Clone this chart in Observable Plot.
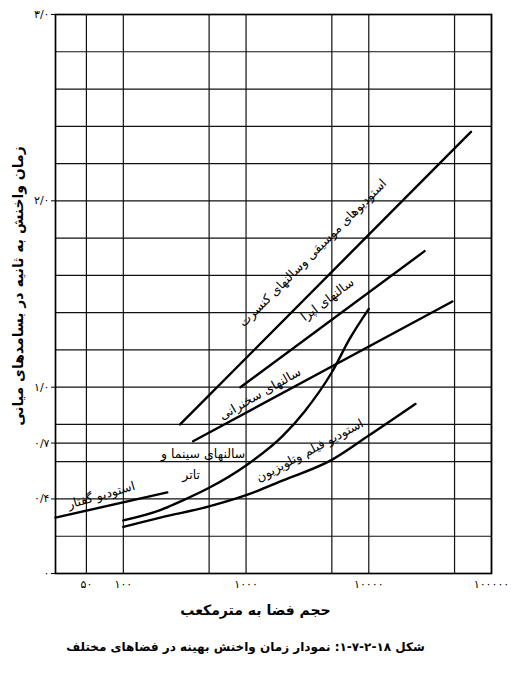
<!DOCTYPE html>
<html>
<head>
<meta charset="utf-8">
<script src="https://cdn.jsdelivr.net/npm/d3@7"></script>
<script src="https://cdn.jsdelivr.net/npm/@observablehq/plot@0.6"></script>
<style>
  body { margin: 0; background: #fff; }
  #chart { width: 517px; }
  #caption { width: 491px; text-align: center; font-family: "DejaVu Sans", sans-serif; font-weight: bold; font-size: 12px; direction: rtl; margin-top: 15px; color: #000; }
</style>
</head>
<body>
<div id="chart"></div>
<div id="caption"></div>
<script>
// ---- data ----
const xTicks = [50, 100, 1000, 10000, 100000];
const yTicks = [0, 0.4, 0.7, 1, 2, 3];
const xGrid = [50, 100, 500, 1000, 5000, 10000, 50000, 100000];
const yGrid = [0, 0.2, 0.4, 0.6, 0.7, 0.8, 1.0, 1.2, 1.4, 1.6, 1.8, 2.0, 2.2, 2.4, 2.6, 2.8, 3.0];

const speechX = [28, 228];
const speechY = [0.30, 0.435];
const cinemaX = [100, 200, 300, 500, 1000, 2000, 3000, 5000, 7000, 10000];
const cinemaY = [0.285, 0.34, 0.39, 0.46, 0.58, 0.74, 0.87, 1.08, 1.26, 1.42];
const filmX = [100, 200, 500, 1000, 2000, 5000, 10000, 24000];
const filmY = [0.25, 0.30, 0.36, 0.42, 0.50, 0.61, 0.74, 0.91];
const lectureX = [370, 48000];
const lectureY = [0.71, 1.46];
const operaX = [900, 28500];
const operaY = [1.0, 1.73];
const concertX = [290, 68000];
const concertY = [0.80, 2.37];

const curveLabels = ["استودیوهای موسیقی وسالنهای کنسرت", "سالنهای اپرا", "سالنهای سخنرانی", "سالنهای سینما و", "تاتر", "استودیو گفتار", "استودیو فیلم وتلویزیون"];
const labelX = [3500, 4600, 1300, 447, 357, 66, 3300];
const labelY = [1.72, 1.47, 0.965, 0.644, 0.526, 0.42, 0.66];
const labelAngle = [-45, -37, -30, 0, 0, -16, -28];

const xTitle = "حجم فضا به مترمکعب";
const yTitle = "زمان واخنش به ثانیه در بسامدهای میانی";
const captionText = "شکل ۱۸-۲-۷-۱: نمودار زمان واخنش بهینه در فضاهای مختلف";

// ---- helpers ----
const fa = s => String(s).replace(/[0-9]/g, d => "۰۱۲۳۴۵۶۷۸۹"[+d]);
const yFmt = v => v === 0 ? "۰" : fa(d3.format(".1f")(v)).replace(".", "/");
const mk = (xs, ys, name) => xs.map((x, i) => ({x, y: ys[i], name}));

const series = [
  mk(speechX, speechY, "speech"),
  mk(cinemaX, cinemaY, "cinema"),
  mk(filmX, filmY, "film"),
  mk(lectureX, lectureY, "lecture"),
  mk(operaX, operaY, "opera"),
  mk(concertX, concertY, "concert")
];
const labels = curveLabels.map((t, i) => ({t, x: labelX[i], y: labelY[i], a: labelAngle[i]}));

const font = "DejaVu Sans, sans-serif";

const chart = Plot.plot({
  width: 517,
  height: 625,
  marginTop: 14,
  marginBottom: 52,
  marginLeft: 55,
  marginRight: 26,
  style: {fontFamily: font, fontSize: "11px", color: "#000", background: "#fff"},
  x: {type: "log", domain: [28, 100000], axis: null},
  y: {domain: [0, 3]},
  marks: [
    Plot.ruleX(xGrid, {stroke: "#111", strokeWidth: 1.2}),
    Plot.ruleY(yGrid, {stroke: "#111", strokeWidth: 1.2}),
    Plot.frame({stroke: "#000", strokeWidth: 1.7}),
    Plot.text(xTicks, {x: d => d, text: d => fa(d), frameAnchor: "bottom", dy: 11, fontSize: 11, fill: "#000", lineAnchor: "middle", textAnchor: "middle"}),
    Plot.axisY({ticks: yTicks, tickFormat: yFmt, tickSize: 4, tickPadding: 2, fontSize: 11, label: null}),
    ...series.map(s => Plot.line(s, {x: "x", y: "y", stroke: "#000", strokeWidth: 2.4, curve: s.length > 2 ? "monotone-x" : "linear"})),
    Plot.text(labels, {x: "x", y: "y", text: "t", rotate: "a", fontSize: 12.5, fill: "#000", textAnchor: "middle", lineAnchor: "middle"}),
    Plot.text([xTitle], {frameAnchor: "bottom", dy: 37, dx: -18, fontSize: 14, fontWeight: "bold", lineAnchor: "middle", textAnchor: "middle"}),
    Plot.text([yTitle], {frameAnchor: "left", dx: -37, dy: -8, rotate: -90, fontSize: 14, fontWeight: "bold", lineAnchor: "middle", textAnchor: "middle"})
  ]
});
document.getElementById("chart").appendChild(chart);
document.getElementById("caption").textContent = captionText;
</script>
</body>
</html>
